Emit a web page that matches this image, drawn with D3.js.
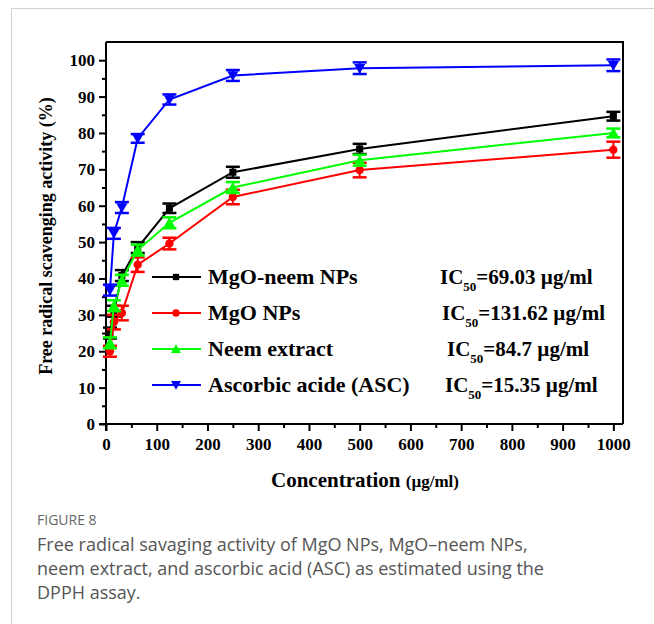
<!DOCTYPE html>
<html>
<head>
<meta charset="utf-8">
<script src="https://cdn.jsdelivr.net/npm/d3@7"></script>
<style>
  body { margin: 0; background: #fff; }
</style>
</head>
<body>
<div id="chart"></div>
<script>
const width = 654;
const height = 624;
const margin = {top: 42, right: 31, bottom: 200, left: 106};
const serif = '"Liberation Serif", "Times New Roman", serif';

// concentrations (µg/ml)
const conc = [7.8, 15.6, 31.25, 62.5, 125, 250, 500, 1000];
const seriesNames = ["MgO-neem NPs", "MgO NPs", "Neem extract", "Ascorbic acide (ASC)"];
const ic50Labels = ["=69.03 µg/ml", "=131.62 µg/ml", "=84.7 µg/ml", "=15.35 µg/ml"];
const mgoNeem = [25, 31, 40.8, 48.5, 59.3, 69.2, 75.6, 84.6];
const mgo = [20, 28, 30.5, 43.8, 49.6, 62.4, 69.8, 75.4];
const neem = [22.3, 32.5, 39.5, 47.8, 55.3, 65, 72.5, 80];
const asc = [36.8, 52.4, 59.5, 78.5, 89.2, 95.8, 97.8, 98.6];
const errNeemNp = [1.5, 1.5, 1.5, 1.5, 1.3, 1.5, 1.4, 1.2];
const errMgo = [1.5, 2, 2, 2, 1.6, 2, 2, 2.2];
const errNeem = [1.5, 1.5, 1.5, 1.5, 1.5, 1.5, 1.5, 1.2];
const errAsc = [1.5, 1.5, 1.5, 1.2, 1.4, 1.5, 1.6, 1.6];
const xTicks = d3.range(0, 1001, 100);
const yTicks = d3.range(0, 101, 10);

const colors = ["#000000", "#ff0000", "#00ff00", "#0000ff"];
const symbols = [d3.symbolSquare, d3.symbolCircle, d3.symbolTriangle, d3.symbolTriangle];
const symSize = [50, 55, 55, 55];
const symRot = [0, 0, 0, 180];

const series = [mgoNeem, mgo, neem, asc].map((vals, k) => ({
  name: seriesNames[k],
  ic: ic50Labels[k],
  color: colors[k],
  pts: vals.map((v, i) => ({x: conc[i], y: v, e: [errNeemNp, errMgo, errNeem, errAsc][k][i]}))
}));

const svg = d3.select('#chart')
  .append('svg')
  .attr('width', width)
  .attr('height', height);

// card border
svg.append('path')
  .attr('d', `M11.5,${height} V8.5 H${width}`)
  .attr('fill', 'none')
  .attr('stroke', '#d0d0d0')
  .attr('stroke-width', 1);

const x = d3.scaleLinear()
  .domain([0, 1019])
  .range([margin.left, width - margin.right]);

const y = d3.scaleLinear()
  .domain([0, 105])
  .range([height - margin.bottom, margin.top]);

const plotB = y(0), plotT = y(105), plotL = x(0), plotR = x(1019);

// frame top/right
svg.append('path')
  .attr('d', `M${plotL},${plotT} H${plotR} V${plotB}`)
  .attr('fill', 'none')
  .attr('stroke', '#000')
  .attr('stroke-width', 2);

// minor ticks
svg.append('g')
  .attr('transform', `translate(0,${plotB})`)
  .call(d3.axisBottom(x).tickValues(d3.range(50, 1001, 100)).tickSize(4).tickFormat(''))
  .call(g => g.select('.domain').remove())
  .selectAll('line').attr('stroke-width', 2);
svg.append('g')
  .attr('transform', `translate(${plotL},0)`)
  .call(d3.axisLeft(y).tickValues(d3.range(5, 101, 10)).tickSize(4).tickFormat(''))
  .call(g => g.select('.domain').remove())
  .selectAll('line').attr('stroke-width', 2);

function xAxis(g) {
  g.attr('transform', `translate(0,${plotB})`)
    .call(d3.axisBottom(x).tickValues(xTicks).tickFormat(d3.format('d')).tickSize(7).tickSizeOuter(0).tickPadding(7))
    .call(g => g.select('.domain').attr('stroke-width', 2).attr('d', `M${plotL - 7},0H${plotR}`))
    .call(g => g.selectAll('line').attr('stroke-width', 2))
    .selectAll('text')
    .style('font-family', serif)
    .attr('font-size', 17)
    .attr('font-weight', 'bold')
    .attr('fill', '#000');
}
function yAxis(g) {
  g.attr('transform', `translate(${plotL},0)`)
    .call(d3.axisLeft(y).tickValues(yTicks).tickSize(7).tickSizeOuter(0).tickPadding(4))
    .call(g => g.select('.domain').attr('stroke-width', 2).attr('d', `M0,${plotB + 7}V${plotT}`))
    .call(g => g.selectAll('line').attr('stroke-width', 2))
    .selectAll('text')
    .style('font-family', serif)
    .attr('font-size', 17)
    .attr('font-weight', 'bold')
    .attr('fill', '#000');
}
svg.append('g').call(xAxis);
svg.append('g').call(yAxis);

// axis titles
const xt = svg.append('text')
  .attr('x', 365)
  .attr('y', 487)
  .attr('text-anchor', 'middle')
  .style('font-family', serif)
  .attr('font-weight', 'bold');
xt.append('tspan').attr('font-size', 21).text('Concentration ');
xt.append('tspan').attr('font-size', 17).text('(µg/ml)');

svg.append('text')
  .attr('transform', `translate(52,236) rotate(-90)`)
  .attr('text-anchor', 'middle')
  .style('font-family', serif)
  .attr('font-size', 18)
  .attr('font-weight', 'bold')
  .text('Free radical scavenging activity (%)');

const line = d3.line().x(d => x(d.x)).y(d => y(d.y));

const groups = svg.selectAll('.series')
  .data(series)
  .enter()
  .append('g')
  .attr('class', 'series');

groups.append('path')
  .attr('d', d => line(d.pts))
  .attr('fill', 'none')
  .attr('stroke', d => d.color)
  .attr('stroke-width', 2);

// error bars
groups.each(function(s) {
  const g = d3.select(this);
  const eb = g.selectAll('.eb').data(s.pts).enter().append('g');
  eb.append('line')
    .attr('x1', d => x(d.x)).attr('x2', d => x(d.x))
    .attr('y1', d => y(d.y - d.e)).attr('y2', d => y(d.y + d.e))
    .attr('stroke', s.color).attr('stroke-width', 2);
  [-1, 1].forEach(sg => {
    eb.append('line')
      .attr('x1', d => x(d.x) - 7).attr('x2', d => x(d.x) + 7)
      .attr('y1', d => y(d.y + sg * d.e)).attr('y2', d => y(d.y + sg * d.e))
      .attr('stroke', s.color).attr('stroke-width', 2.5);
  });
});

// markers
groups.each(function(s, k) {
  d3.select(this).selectAll('.mk')
    .data(s.pts)
    .enter()
    .append('path')
    .attr('d', d3.symbol().type(symbols[k]).size(symSize[k]))
    .attr('transform', d => `translate(${x(d.x)},${y(d.y) + (k >= 2 ? (k === 2 ? 1 : -1) : 0)}) rotate(${symRot[k]})`)
    .attr('fill', s.color);
});

// legend
const rowY = [277, 313, 349, 385];
const icX = [440, 442, 447, 445];
const leg = svg.append('g').style('font-family', serif);
series.forEach((s, k) => {
  const ly = rowY[k];
  leg.append('line')
    .attr('x1', 152).attr('x2', 201).attr('y1', ly).attr('y2', ly)
    .attr('stroke', s.color).attr('stroke-width', 2);
  leg.append('path')
    .attr('d', d3.symbol().type(symbols[k]).size(symSize[k] * 0.8))
    .attr('transform', `translate(176,${ly + (k === 2 ? 1 : k === 3 ? -1 : 0)}) rotate(${symRot[k]})`)
    .attr('fill', s.color);
  leg.append('text')
    .attr('x', 208).attr('y', ly + 7)
    .attr('font-size', 22).attr('font-weight', 'bold')
    .text(s.name);
  const t = leg.append('text')
    .attr('x', icX[k]).attr('y', ly + 7)
    .attr('font-size', 21).attr('font-weight', 'bold');
  t.append('tspan').text('IC');
  t.append('tspan').attr('font-size', 13).attr('dy', 7).text('50');
  t.append('tspan').attr('dy', -7).text(s.ic);
});

// caption
const cap = svg.append('g').style('font-family', '"Open Sans", "Noto Sans", sans-serif');
cap.append('text')
  .attr('x', 37).attr('y', 525)
  .attr('font-size', 14)
  .attr('fill', '#666')
  .text('FIGURE 8');
['Free radical savaging activity of MgO NPs, MgO\u2013neem NPs,',
 'neem extract, and ascorbic acid (ASC) as estimated using the',
 'DPPH assay.'].forEach((l, i) => {
  cap.append('text')
    .attr('x', 37).attr('y', 551 + i * 24)
    .attr('font-size', 18)
    .attr('fill', '#555')
    .text(l);
});
</script>
</body>
</html>
